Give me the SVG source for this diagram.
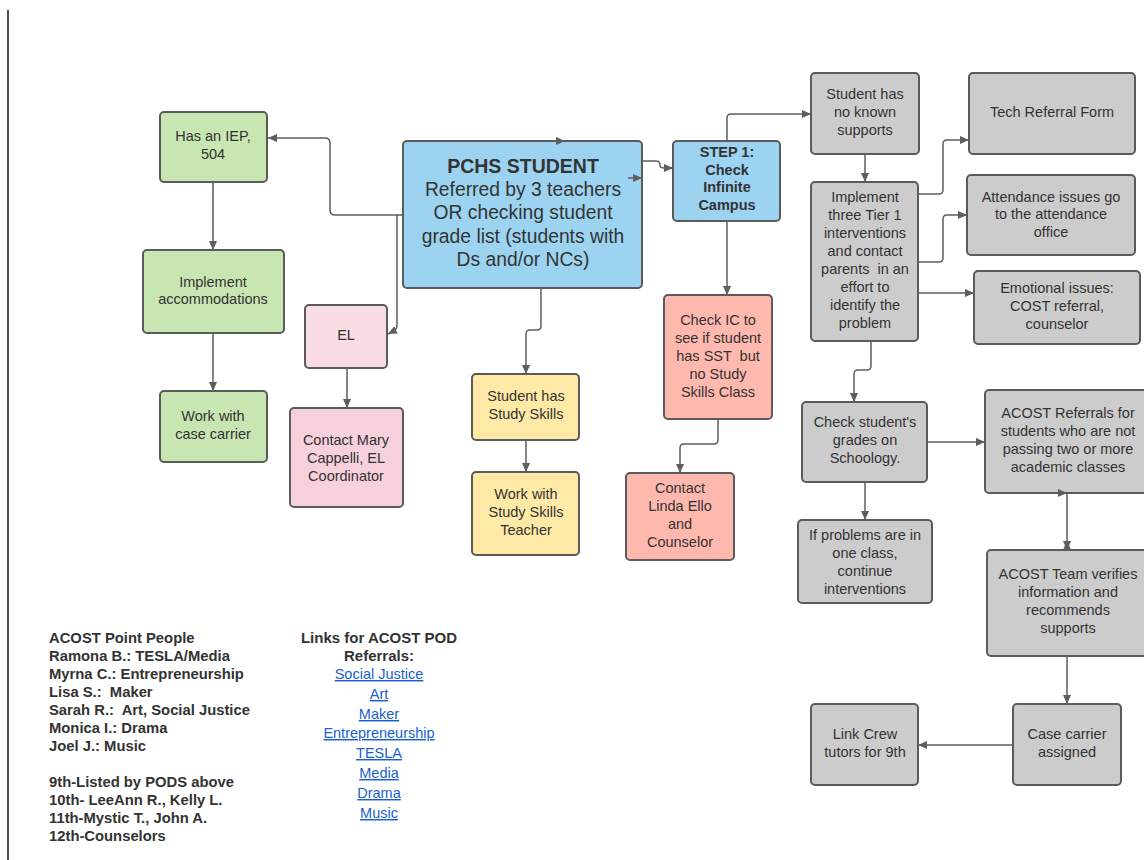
<svg xmlns="http://www.w3.org/2000/svg" width="1144" height="860" viewBox="0 0 1144 860">
<style>
.n{stroke:#5b5b5b;stroke-width:2}
.g{fill:#c8e6b1}.b{fill:#9bd3f1}.p1{fill:#fadce4}.p2{fill:#f6d0db}.y{fill:#ffe9a6}.s{fill:#ffb8ae}.gr{fill:#cccccc}
text{font-family:"Liberation Sans",Arial,sans-serif;fill:#333333;font-size:14.5px;text-anchor:middle;white-space:pre}
.bd{font-weight:bold}
.c{fill:none;stroke:#5e5e5e;stroke-width:1.5}
.lt{text-anchor:start;font-weight:bold;font-size:14.8px}
.lh{font-weight:bold;font-size:15px}
.lk{fill:#1a5fd1;text-decoration:underline;font-size:14.5px}
</style>
<defs>
<marker id="a" viewBox="0 0 10 10" refX="10" refY="5" markerWidth="9" markerHeight="9" markerUnits="userSpaceOnUse" orient="auto"><path d="M0,0.5L10,5L0,9.5z" fill="#5e5e5e"/></marker>
</defs>
<line x1="8" y1="10" x2="8" y2="860" stroke="#111" stroke-width="1.5"/>
<g id="iep"><rect class="n g" x="160" y="112" width="107" height="70" rx="4"/><text x="213" y="141">Has an IEP,</text><text x="213" y="159">504</text></g>
<g id="accom"><rect class="n g" x="143" y="250" width="141" height="83" rx="4"/><text x="213" y="287">Implement</text><text x="213" y="304">accommodations</text></g>
<g id="casecarrier"><rect class="n g" x="160" y="391" width="107" height="71" rx="4"/><text x="213" y="421">Work with</text><text x="213" y="439">case carrier</text></g>
<g id="el"><rect class="n p1" x="305" y="305" width="82" height="63" rx="4"/><text x="346" y="340">EL</text></g>
<g id="mary"><rect class="n p2" x="290" y="408" width="113" height="99" rx="4"/><text x="346" y="445">Contact Mary</text><text x="346" y="463">Cappelli, EL</text><text x="346" y="481">Coordinator</text></g>
<g id="pchs"><rect class="n b" x="403" y="141" width="239" height="147" rx="4"/><text x="523" y="173" class="bd" style="font-size:19.5px">PCHS STUDENT</text><text x="523" y="196" style="font-size:19.3px">Referred by 3 teachers</text><text x="523" y="219" style="font-size:19.3px">OR checking student</text><text x="523" y="243" style="font-size:19.3px">grade list (students with</text><text x="523" y="266" style="font-size:19.3px">Ds and/or NCs)</text></g>
<g id="step1"><rect class="n b" x="673" y="141" width="107" height="80" rx="4"/><text x="727" y="157" class="bd">STEP 1:</text><text x="727" y="175" class="bd">Check</text><text x="727" y="192" class="bd">Infinite</text><text x="727" y="210" class="bd">Campus</text></g>
<g id="studyskills"><rect class="n y" x="472" y="374" width="107" height="66" rx="4"/><text x="526" y="401">Student has</text><text x="526" y="419">Study Skills</text></g>
<g id="sstteacher"><rect class="n y" x="472" y="472" width="107" height="83" rx="4"/><text x="526" y="499">Work with</text><text x="526" y="517">Study Skills</text><text x="526" y="535">Teacher</text></g>
<g id="checkic"><rect class="n s" x="664" y="295" width="108" height="124" rx="4"/><text x="718" y="325">Check IC to</text><text x="718" y="343">see if student</text><text x="718" y="361">has SST  but</text><text x="718" y="379">no Study</text><text x="718" y="397">Skills Class</text></g>
<g id="linda"><rect class="n s" x="626" y="473" width="108" height="87" rx="4"/><text x="680" y="493">Contact</text><text x="680" y="511">Linda Ello</text><text x="680" y="529">and</text><text x="680" y="547">Counselor</text></g>
<g id="nosupports"><rect class="n gr" x="811" y="73" width="108" height="81" rx="4"/><text x="865" y="99">Student has</text><text x="865" y="117">no known</text><text x="865" y="135">supports</text></g>
<g id="tech"><rect class="n gr" x="969" y="73" width="166" height="81" rx="4"/><text x="1052" y="117">Tech Referral Form</text></g>
<g id="tier1"><rect class="n gr" x="811" y="182" width="107" height="159" rx="4"/><text x="865" y="202">Implement</text><text x="865" y="220">three Tier 1</text><text x="865" y="238">interventions</text><text x="865" y="256">and contact</text><text x="865" y="274">parents  in an</text><text x="865" y="292">effort to</text><text x="865" y="310">identify the</text><text x="865" y="328">problem</text></g>
<g id="attendance"><rect class="n gr" x="967" y="175" width="168" height="80" rx="4"/><text x="1051" y="202">Attendance issues go</text><text x="1051" y="219">to the attendance</text><text x="1051" y="237">office</text></g>
<g id="emotional"><rect class="n gr" x="974" y="271" width="166" height="73" rx="4"/><text x="1057" y="293">Emotional issues:</text><text x="1057" y="311">COST referral,</text><text x="1057" y="329">counselor</text></g>
<g id="grades"><rect class="n gr" x="802" y="402" width="125" height="80" rx="4"/><text x="865" y="427">Check student's</text><text x="865" y="445">grades on</text><text x="865" y="463">Schoology.</text></g>
<g id="oneclass"><rect class="n gr" x="798" y="520" width="134" height="83" rx="4"/><text x="865" y="540">If problems are in</text><text x="865" y="558">one class,</text><text x="865" y="576">continue</text><text x="865" y="594">interventions</text></g>
<g id="acostref"><rect class="n gr" x="985" y="390" width="166" height="103" rx="4"/><text x="1068" y="418">ACOST Referrals for</text><text x="1068" y="436">students who are not</text><text x="1068" y="454">passing two or more</text><text x="1068" y="472">academic classes</text></g>
<g id="acostteam"><rect class="n gr" x="987" y="550" width="164" height="106" rx="4"/><text x="1068" y="579">ACOST Team verifies</text><text x="1068" y="597">information and</text><text x="1068" y="615">recommends</text><text x="1068" y="633">supports</text></g>
<g id="assigned"><rect class="n gr" x="1013" y="704" width="108" height="81" rx="4"/><text x="1067" y="739">Case carrier</text><text x="1067" y="757">assigned</text></g>
<g id="linkcrew"><rect class="n gr" x="811" y="704" width="107" height="81" rx="4"/><text x="865" y="739">Link Crew</text><text x="865" y="757">tutors for 9th</text></g>
<g id="connectors">
<path class="c" d="M403,215H335Q330,215 330,210V143Q330,138 325,138H268" marker-end="url(#a)"/>
<path class="c" d="M397,215V325Q397,330 392,332L388,334" marker-end="url(#a)"/>
<path class="c" d="M213,183V250" marker-end="url(#a)"/>
<path class="c" d="M213,334V391" marker-end="url(#a)"/>
<path class="c" d="M347,369V408" marker-end="url(#a)"/>
<path class="c" d="M541,289V326Q541,330 537,330H530Q526,330 526,334V374" marker-end="url(#a)"/>
<path class="c" d="M526,441V472" marker-end="url(#a)"/>
<path class="c" d="M548,141H565" marker-end="url(#a)"/>
<path class="c" d="M628,178H642" marker-end="url(#a)"/>
<path class="c" d="M643,161H656Q660,161 660,165Q660,168 664,168H673" marker-end="url(#a)"/>
<path class="c" d="M727,140V118Q727,114 731,114H811" marker-end="url(#a)"/>
<path class="c" d="M727,222V295" marker-end="url(#a)"/>
<path class="c" d="M718,420V440Q718,444 714,444H684Q680,444 680,448V473" marker-end="url(#a)"/>
<path class="c" d="M865,155V182" marker-end="url(#a)"/>
<path class="c" d="M919,194H939Q943,194 943,190V144Q943,140 947,140H969" marker-end="url(#a)"/>
<path class="c" d="M919,262H939Q943,262 943,258V219Q943,215 947,215H967" marker-end="url(#a)"/>
<path class="c" d="M919,293H974" marker-end="url(#a)"/>
<path class="c" d="M871,342V366Q871,370 867,370H858Q854,370 854,374V402" marker-end="url(#a)"/>
<path class="c" d="M928,442H985" marker-end="url(#a)"/>
<path class="c" d="M865,483V520" marker-end="url(#a)"/>
<path class="c" d="M1053,493H1067" marker-end="url(#a)"/>
<path class="c" d="M1067,494V550" marker-end="url(#a)"/>
<path d="M1063,550L1067,540L1071,550z" fill="#5e5e5e"/>
<path class="c" d="M1067,657V704" marker-end="url(#a)"/>
<path class="c" d="M1012,745H918" marker-end="url(#a)"/>
</g>
<g id="pointpeople">
<text class="lt" x="49" y="643">ACOST Point People</text>
<text class="lt" x="49" y="661">Ramona B.: TESLA/Media</text>
<text class="lt" x="49" y="679">Myrna C.: Entrepreneurship</text>
<text class="lt" x="49" y="697">Lisa S.:  Maker</text>
<text class="lt" x="49" y="715">Sarah R.:  Art, Social Justice</text>
<text class="lt" x="49" y="733">Monica I.: Drama</text>
<text class="lt" x="49" y="751">Joel J.: Music</text>
<text class="lt" x="49" y="787">9th-Listed by PODS above</text>
<text class="lt" x="49" y="805">10th- LeeAnn R., Kelly L.</text>
<text class="lt" x="49" y="823">11th-Mystic T., John A.</text>
<text class="lt" x="49" y="841">12th-Counselors</text>
</g>
<g id="links">
<text class="lh" x="379" y="643">Links for ACOST POD</text>
<text class="lh" x="379" y="661">Referrals:</text>
<text class="lk" x="379" y="679">Social Justice</text>
<text class="lk" x="379" y="699">Art</text>
<text class="lk" x="379" y="719">Maker</text>
<text class="lk" x="379" y="738">Entrepreneurship</text>
<text class="lk" x="379" y="758">TESLA</text>
<text class="lk" x="379" y="778">Media</text>
<text class="lk" x="379" y="798">Drama</text>
<text class="lk" x="379" y="818">Music</text>
</g>
</svg>
